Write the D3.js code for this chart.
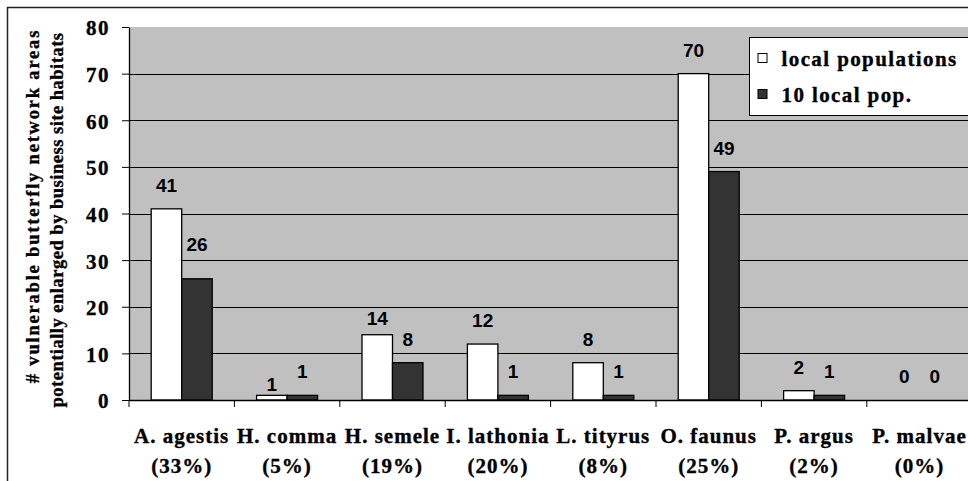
<!DOCTYPE html>
<html>
<head>
<meta charset="utf-8">
<script src="https://cdnjs.cloudflare.com/ajax/libs/d3/7.8.5/d3.min.js"></script>
<style>
  body { margin: 0; background: #ffffff; }
  .serif { font-family: "Liberation Serif", "Times New Roman", serif; font-weight: bold; stroke: #000; stroke-width: 0.35px; }
  .sans { font-family: "Liberation Sans", Arial, sans-serif; font-weight: bold; }
</style>
</head>
<body>
<svg class="chart"></svg>
<script>

// butterfly species on the x axis
var categories = ["A. agestis", "H. comma", "H. semele", "I. lathonia",
                  "L. tityrus", "O. faunus", "P. argus", "P. malvae"];
var percentLabels = ["(33%)", "(5%)", "(19%)", "(20%)", "(8%)", "(25%)", "(2%)", "(0%)"];

// the two series
var seriesNames = ["local populations", "10 local pop."];
var localPopulations = [41, 1, 14, 12, 8, 70, 2, 0];
var tenLocalPop = [26, 1, 8, 1, 1, 49, 1, 0];

var yTicks = [0, 10, 20, 30, 40, 50, 60, 70, 80];

// a few labels were moved by hand in the original
var labelNudge = {
    "10 local pop.|A. agestis": -11,
    "local populations|H. comma": 13,
    "local populations|H. semele": 7
};

var width = 968,
    height = 481;

var plot = {left: 129, top: 27, bottom: 400, step: 105.4};

var svg = d3.select(".chart")
    .attr("width", width)
    .attr("height", height);

drawChart();

function drawChart() {

    var rows = categories.map(function(c, i) {
        return {cat: c, pct: percentLabels[i], values: [localPopulations[i], tenLocalPop[i]]};
    });

    var x0 = d3.scaleBand()
        .domain(categories)
        .range([plot.left, plot.left + plot.step * categories.length]);

    var x1 = d3.scaleBand()
        .domain(seriesNames)
        .range([0, x0.bandwidth()])
        .paddingOuter(0.728);

    var y = d3.scaleLinear()
        .domain([0, 80])
        .range([plot.bottom, plot.top]);

    var colors = d3.scaleOrdinal()
        .domain(seriesNames)
        .range(["#ffffff", "#333333"]);

    // outer chart border (cut off at right and bottom)
    svg.append("rect")
        .attr("x", 7.5)
        .attr("y", 7.5)
        .attr("width", width + 20)
        .attr("height", height + 20)
        .attr("fill", "none")
        .attr("stroke", "#222")
        .attr("stroke-width", 1.5);

    // plot area
    svg.append("rect")
        .attr("x", plot.left)
        .attr("y", plot.top)
        .attr("width", width - plot.left + 10)
        .attr("height", plot.bottom - plot.top)
        .attr("fill", "#c0c0c0");

    // gridlines
    svg.append("g")
        .selectAll("line")
        .data(yTicks.filter(function(t) { return t > 0 && t < 80; }))
        .enter()
        .append("line")
        .attr("x1", plot.left)
        .attr("x2", width + 10)
        .attr("y1", function(d) { return Math.round(y(d)) + 0.5; })
        .attr("y2", function(d) { return Math.round(y(d)) + 0.5; })
        .attr("stroke", "#000")
        .attr("stroke-width", 1);

    // bars
    var groups = svg.append("g")
        .selectAll("g")
        .data(rows)
        .enter()
        .append("g")
        .attr("transform", function(d) { return "translate(" + x0(d.cat) + ",0)"; });

    groups.selectAll("rect")
        .data(function(d) {
            return seriesNames.map(function(s, i) { return {series: s, value: d.values[i], cat: d.cat}; });
        })
        .enter()
        .filter(function(d) { return d.value > 0; })
        .append("rect")
        .attr("x", function(d) { return x1(d.series); })
        .attr("y", function(d) { return y(d.value); })
        .attr("width", x1.bandwidth())
        .attr("height", function(d) { return plot.bottom - y(d.value); })
        .attr("fill", function(d) { return colors(d.series); })
        .attr("stroke", "#000")
        .attr("stroke-width", 1.3);

    // value labels
    groups.selectAll("text")
        .data(function(d) {
            return seriesNames.map(function(s, i) { return {series: s, value: d.values[i], cat: d.cat}; });
        })
        .enter()
        .append("text")
        .attr("class", "sans")
        .attr("x", function(d) { return x1(d.series) + x1.bandwidth() / 2; })
        .attr("y", function(d) {
            var nudge = labelNudge[d.series + "|" + d.cat] || 0;
            return y(d.value) - 17 + nudge;
        })
        .attr("text-anchor", "middle")
        .style("font-size", "19px")
        .text(function(d) { return d.value; });

    drawYAxis(y);
    drawXAxis(x0, rows);
    drawLegend(colors);
    drawYTitle();
}

// y axis with bold serif tick labels
function drawYAxis(y) {

    var axis = svg.append("g")
        .attr("transform", "translate(" + plot.left + ",0)")
        .call(d3.axisLeft(y).tickValues(yTicks).tickSize(7).tickPadding(12).tickSizeOuter(0));

    axis.select(".domain").attr("stroke", "#000").attr("stroke-width", 1.3);
    axis.selectAll(".tick line").attr("stroke", "#000");
    axis.selectAll(".tick text")
        .attr("class", "serif")
        .attr("fill", "#000")
        .attr("dy", "0.38em")
        .style("font-size", "21px")
        .style("letter-spacing", "1.5px");
}

// x axis: ticks at band edges, two line labels
function drawXAxis(x0, rows) {

    var edges = categories.map(function(c) { return x0(c); });

    svg.append("line")
        .attr("x1", plot.left)
        .attr("x2", width + 10)
        .attr("y1", plot.bottom + 0.5)
        .attr("y2", plot.bottom + 0.5)
        .attr("stroke", "#000")
        .attr("stroke-width", 1.3);

    svg.append("g")
        .selectAll("line")
        .data(edges)
        .enter()
        .append("line")
        .attr("x1", function(d) { return d; })
        .attr("x2", function(d) { return d; })
        .attr("y1", plot.bottom)
        .attr("y2", plot.bottom + 7)
        .attr("stroke", "#000");

    var labels = svg.append("g")
        .selectAll("text")
        .data(rows)
        .enter()
        .append("text")
        .attr("class", "serif")
        .attr("text-anchor", "middle")
        .style("font-size", "21px")
        .style("letter-spacing", "1px");

    labels.append("tspan")
        .attr("x", function(d) { return x0(d.cat) + x0.bandwidth() / 2; })
        .attr("y", 443)
        .text(function(d) { return d.cat; });

    labels.append("tspan")
        .attr("x", function(d) { return x0(d.cat) + x0.bandwidth() / 2; })
        .attr("y", 473)
        .text(function(d) { return d.pct; });
}

// legend box in the upper right corner
function drawLegend(colors) {

    var legend = svg.append("g")
        .attr("transform", "translate(749.5,37.5)");

    legend.append("rect")
        .attr("width", 260)
        .attr("height", 78)
        .attr("fill", "#fff")
        .attr("stroke", "#000")
        .attr("stroke-width", 1);

    var item = legend.selectAll(".item")
        .data(seriesNames)
        .enter()
        .append("g")
        .attr("class", "item")
        .attr("transform", function(d, i) { return "translate(0," + (i * 36) + ")"; });

    item.append("rect")
        .attr("x", 8.5)
        .attr("y", 16)
        .attr("width", 9)
        .attr("height", 9)
        .attr("fill", function(d) { return colors(d); })
        .attr("stroke", "#000");

    item.append("text")
        .attr("class", "serif")
        .attr("x", 32)
        .attr("y", 28)
        .style("font-size", "21px")
        .style("letter-spacing", "1.4px")
        .text(function(d) { return d; });
}

// rotated two line title of the y axis
function drawYTitle() {

    var title = svg.append("text")
        .attr("class", "serif")
        .attr("transform", "rotate(-90)")
        .attr("text-anchor", "middle")
        .style("font-size", "18.5px");

    title.append("tspan")
        .attr("x", -206)
        .attr("y", 39)
        .style("letter-spacing", "1.8px")
        .text("# vulnerable butterfly network areas");

    title.append("tspan")
        .attr("x", -220)
        .attr("y", 63)
        .style("letter-spacing", "0.5px")
        .text("potentially enlarged by business site habitats");
}
</script>
</body>
</html>
